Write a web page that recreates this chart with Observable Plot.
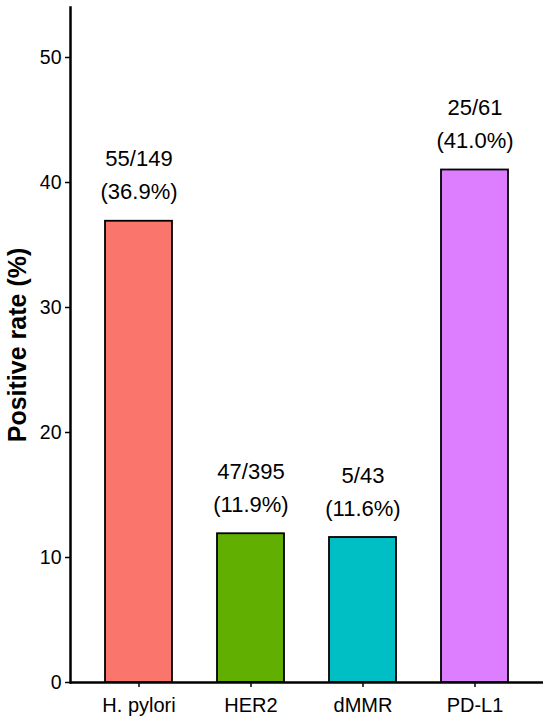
<!DOCTYPE html>
<html>
<head>
<meta charset="utf-8">
<script src="https://cdn.jsdelivr.net/npm/d3@7"></script>
<script src="https://cdn.jsdelivr.net/npm/@observablehq/plot@0.6"></script>
<style>
  html, body { margin: 0; padding: 0; background: #fff; }
  #chart svg [aria-label="y-axis label"] text { font-weight: bold; font-size: 25px; }
</style>
</head>
<body>
<div id="chart"></div>
<script>
const categories = ["H. pylori", "HER2", "dMMR", "PD-L1"];
const positives = [55, 47, 5, 25];
const totals = [149, 395, 43, 61];
const rates = [36.9, 11.9, 11.6, 41.0];
const rateLabels = ["36.9%", "11.9%", "11.6%", "41.0%"];
const colors = ["#FA766D", "#61AF00", "#00BFC4", "#DC7EFF"];
const yTicks = [0, 10, 20, 30, 40, 50];

const data = categories.map((c, i) => ({
  category: c,
  rate: rates[i],
  label: `${positives[i]}/${totals[i]}\n(${rateLabels[i]})`
}));

const chart = Plot.plot({
  width: 550,
  height: 720,
  marginLeft: 70,
  marginRight: 7,
  marginTop: 7,
  marginBottom: 38,
  style: { fontFamily: "'Liberation Sans', Arial, sans-serif", fontSize: "19.5px", color: "#000", background: "#fff" },
  x: { domain: categories, paddingInner: 0.4, paddingOuter: 0.3 },
  y: { domain: [0, 54] },
  color: { domain: categories, range: colors },
  marks: [
    Plot.barY(data, { x: "category", y: "rate", fill: "category", stroke: "#000", strokeWidth: 1.8 }),
    Plot.text(data, { x: "category", y: "rate", text: "label", lineAnchor: "bottom", dy: -22, fontSize: 22, lineHeight: 1.5, fill: "#000" }),
    Plot.axisY({ ticks: yTicks, tickSize: 5, tickPadding: 4, stroke: "#000", strokeWidth: 1.5, fill: "#000", fontSize: 19.5, label: "Positive rate (%)", labelAnchor: "center", labelArrow: "none", labelOffset: 62 }),
    Plot.axisX({ tickSize: 5, tickPadding: 10, stroke: "#000", strokeWidth: 1.5, fill: "#000", fontSize: 20, label: null }),
    Plot.frame({ anchor: "left", stroke: "#000", strokeWidth: 2.5 }),
    Plot.ruleY([0], { stroke: "#000", strokeWidth: 2.5 })
  ]
});
document.getElementById("chart").appendChild(chart);
</script>
</body>
</html>
